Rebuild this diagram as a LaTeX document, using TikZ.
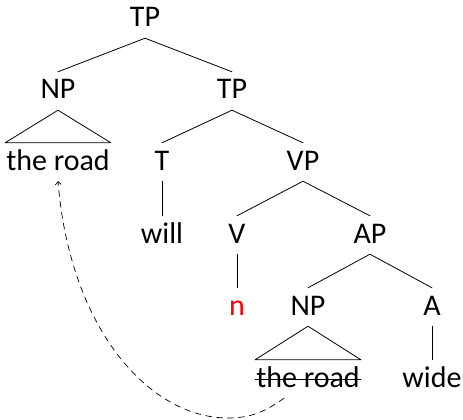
\documentclass[tikz,border=0pt]{standalone}
\usepackage{fontspec}
\setmainfont{Carlito}
\usetikzlibrary{arrows.meta}

\begin{document}
\begin{tikzpicture}[
    x=1pt,y=-1pt,
    line cap=round,
    line join=round,
    label/.style={font=\fontsize{30}{36}\selectfont, anchor=base,
        text height=18pt, text depth=2pt, inner ysep=9pt, inner xsep=1pt},
    branch/.style={draw=black, line width=0.8pt},
    movement/.style={draw=black, line width=0.7pt, dash pattern=on 6pt off 5pt}
]
\useasboundingbox (0,0) rectangle (463,420);

\node[label] (tp)   at (145,27)  {TP};
\node[label] (np)   at (58,99)   {NP};
\node[label] (tpb)  at (232,99)  {TP};
\node[label] (road) at (58,170)  {the road};
\node[label] (t)    at (162,170) {T};
\node[label] (vp)   at (303,170) {VP};
\node[label] (will) at (162,243) {will};
\node[label] (v)    at (237,243) {V};
\node[label] (ap)   at (370,243) {AP};
\node[label, text=red] (n) at (237,315) {n};
\node[label] (npb)  at (308,315) {NP};
\node[label] (a)    at (432,315) {A};
\node[label] (roadb) at (308,387) {the road};
\node[label] (wide) at (432,387) {wide};

\draw[branch] (tp.south)--(np.north);
\draw[branch] (tp.south)--(tpb.north);
\draw[branch] (np.south)--(road.north west)--(road.north east)--cycle;
\draw[branch] (tpb.south)--(t.north);
\draw[branch] (tpb.south)--(vp.north);
\draw[branch] (t.south)--(will.north);
\draw[branch] (vp.south)--(v.north);
\draw[branch] (vp.south)--(ap.north);
\draw[branch] (v.south)--(n.north);
\draw[branch] (ap.south)--(npb.north);
\draw[branch] (ap.south)--(a.north);
\draw[branch] (npb.south)--(roadb.north west)--(roadb.north east)--cycle;
\draw[branch] (a.south)--(wide.north);

% strike-through of the moved copy
\draw[branch] ([yshift=8pt]roadb.base west)--([yshift=8pt]roadb.base east);

% movement arrow
\coordinate (bend) at (228,418);
\draw[movement,-{Straight Barb[length=3pt,width=6pt]}] ([xshift=-24pt]roadb.south)
    .. controls (265,412) and (250,418) .. (bend)
    .. controls (150,418) and (70,330) .. (road.south);

\end{tikzpicture}
\end{document}
